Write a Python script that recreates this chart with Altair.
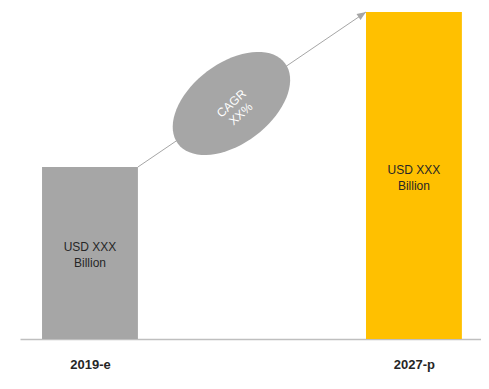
import altair as alt
import pandas as pd
import numpy as np

# ---- data ----
years = ["2019-e", "2027-p"]
values = [52.6, 100.0]
bar_colors = ["#A6A6A6", "#FFC000"]
bar_labels = ["USD XXX\nBillion", "USD XXX\nBillion"]
cagr_label = "CAGR\nXX%"

positions = [0, 1]
half_width = 0.148
x_domain = [-0.216, 1.207]
y_domain = [0, 100]

bars = pd.DataFrame({
    "year": years, "pos": positions, "value": values,
    "color": bar_colors, "label": bar_labels,
})
bars["x0"] = bars["pos"] - half_width
bars["x1"] = bars["pos"] + half_width
bars["mid"] = bars["value"] / 2

arrow = pd.DataFrame({
    "x": [positions[0] + half_width], "y": [values[0]],
    "x2": [positions[1] - half_width], "y2": [values[1]],
})
frac = 0.41
bubble = pd.DataFrame({
    "x": [arrow.x[0] + frac * (arrow.x2[0] - arrow.x[0])],
    "y": [arrow.y[0] + frac * (arrow.y2[0] - arrow.y[0])],
    "label": [cagr_label],
})

# ellipse shape (unit coords), minor/major ratio
ratio = 0.6
th = np.linspace(0, 2 * np.pi, 72, endpoint=False)
ellipse_path = "M" + " L".join(f"{np.cos(a):.4f},{ratio * np.sin(a):.4f}" for a in th) + " Z"

xs = alt.Scale(domain=x_domain, nice=False, zero=False)
ys = alt.Scale(domain=y_domain, nice=False, zero=True)

label_expr = f"['{years[0]}','{years[1]}'][datum.value]"
x_axis = alt.Axis(
    values=positions, labelExpr=label_expr, title=None, grid=False,
    ticks=False, domainColor="#BFBFBF", domainWidth=1.5,
    labelFontSize=13, labelFontWeight="bold", labelColor="#262626",
    labelFont="Liberation Sans", labelPadding=19)

bar_layer = alt.Chart(bars).mark_bar().encode(
    x=alt.X("x0:Q", scale=xs, axis=x_axis),
    x2="x1:Q",
    y=alt.Y("value:Q", scale=ys, axis=None),
    y2=alt.datum(0),
    color=alt.Color("color:N", scale=None),
)

bar_text = alt.Chart(bars).mark_text(
    lineBreak="\n", fontSize=12, font="Liberation Sans", color="#262626",
    lineHeight=16, dy=-6,
).encode(
    x=alt.X("pos:Q", scale=xs, axis=x_axis),
    y=alt.Y("mid:Q", scale=ys, axis=None),
    text="label:N",
)

arrow_line = alt.Chart(arrow).mark_rule(color="#A6A6A6", strokeWidth=1).encode(
    x=alt.X("x:Q", scale=xs, axis=x_axis),
    y=alt.Y("y:Q", scale=ys, axis=None),
    x2="x2:Q",
    y2="y2:Q",
)

arrow_head = alt.Chart(arrow).mark_point(
    shape="M0,0 L0.8,2 L-0.8,2 Z", filled=True, color="#A6A6A6",
    opacity=1, size=81, angle=56, strokeWidth=0,
).encode(
    x=alt.X("x2:Q", scale=xs, axis=x_axis),
    y=alt.Y("y2:Q", scale=ys, axis=None),
)

ellipse = alt.Chart(bubble).mark_point(
    shape=ellipse_path, filled=True, color="#A6A6A6", opacity=1,
    size=17956, angle=323, strokeWidth=0,
).encode(
    x=alt.X("x:Q", scale=xs, axis=x_axis),
    y=alt.Y("y:Q", scale=ys, axis=None),
)

ellipse_text = alt.Chart(bubble).mark_text(
    lineBreak="\n", fontSize=12, font="Liberation Sans Narrow, Liberation Sans",
    color="white", angle=318, lineHeight=14,
).encode(
    x=alt.X("x:Q", scale=xs, axis=x_axis),
    y=alt.Y("y:Q", scale=ys, axis=None),
    text="label:N",
)

chart = alt.layer(
    bar_layer, bar_text, arrow_line, arrow_head, ellipse, ellipse_text
).properties(
    width=461, height=327,
    padding={"left": 12, "top": 4, "right": 0, "bottom": 40},
    autosize=alt.AutoSizeParams(type="none"),
    background="white",
).configure_view(stroke=None)

chart.save("out.html", embed_options={"renderer": "svg", "actions": False})
